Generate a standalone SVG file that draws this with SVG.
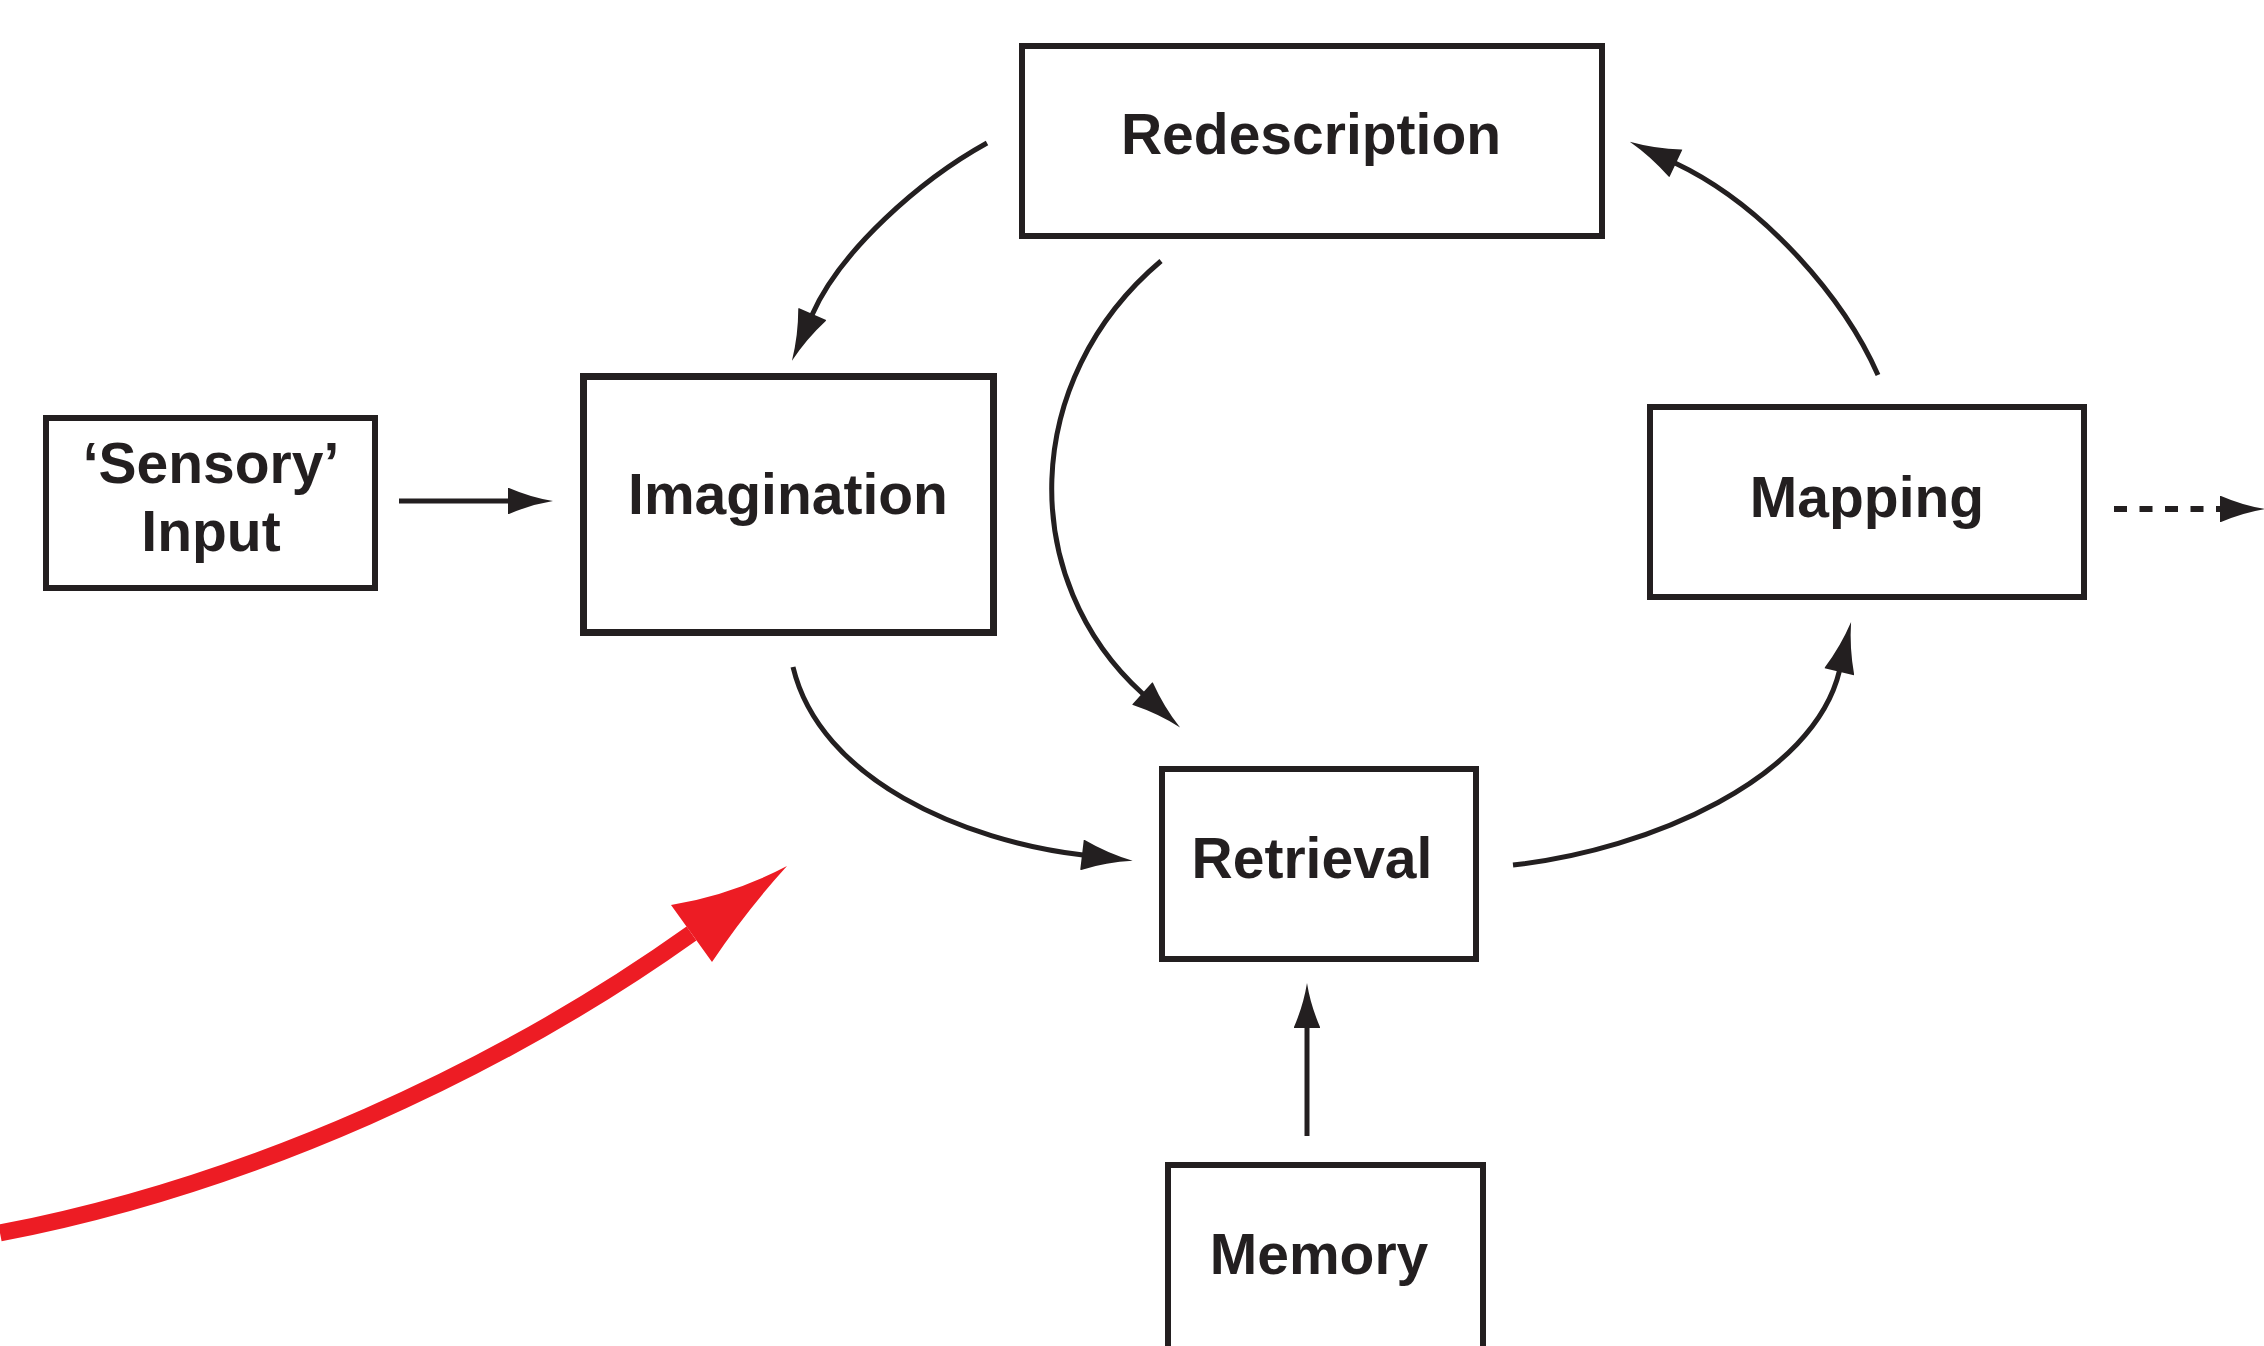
<svg xmlns="http://www.w3.org/2000/svg" width="2264" height="1346" viewBox="0 0 2264 1346">
  <style>
    .box { fill: #ffffff; stroke: #231f20; stroke-width: 6; }
    .thick { stroke-width: 7; }
    .lbl { font-family: "Liberation Sans", Arial, Helvetica, sans-serif; font-weight: bold; font-size: 57px; fill: #231f20; text-anchor: middle; }
    .conn { fill: none; stroke: #231f20; stroke-width: 5; }
    .dash { stroke-width: 6; stroke-dasharray: 13 12.5; }
    .red { fill: none; stroke: #ed1c24; stroke-width: 17; }
  </style>
  <defs>
    <marker id="ahc" markerUnits="userSpaceOnUse" markerWidth="54" markerHeight="32" refX="0" refY="0" orient="auto" overflow="visible">
      <path d="M-1,-15 L0,-15 Q24,-4.5 50,0 Q24,4.5 0,15 L-1,15 Z" fill="#231f20"/>
    </marker>
    <marker id="ahs" markerUnits="userSpaceOnUse" markerWidth="48" markerHeight="28" refX="0" refY="0" orient="auto" overflow="visible">
      <path d="M-1,-13 L0,-13 Q22,-3.5 44,0 Q22,3.5 0,13 L-1,13 Z" fill="#231f20"/>
    </marker>
  </defs>
  <rect width="2264" height="1346" fill="#ffffff"/>

  <g id="connectors">
    <path id="c-sensory-imagination" class="conn" d="M399,501 L509,501" marker-end="url(#ahs)"/>
    <path id="c-redescription-imagination" class="conn" d="M987,143 C920,180 840,251 812,315" marker-end="url(#ahc)"/>
    <path id="c-redescription-retrieval" class="conn" d="M1161,261 C1020,380 1017,580 1143,694" marker-end="url(#ahc)"/>
    <path id="c-mapping-redescription" class="conn" d="M1878,375 C1845,300 1766,206 1675,163" marker-end="url(#ahc)"/>
    <path id="c-retrieval-mapping" class="conn" d="M1513,865 C1650,850 1814,778 1839.5,670.7" marker-end="url(#ahc)"/>
    <path id="c-imagination-retrieval" class="conn" d="M793,667 C820,780 964,841 1083,855" marker-end="url(#ahc)"/>
    <path id="c-memory-retrieval" class="conn" d="M1307,1136 L1307,1027" marker-end="url(#ahs)"/>
    <path id="c-mapping-out" class="conn dash" d="M2114,509 L2221,509" marker-end="url(#ahs)"/>
    <g id="red-arrow">
      <path class="red" d="M0,1233 C250,1185 500,1070 691.5,933.5"/>
      <path d="M671,905 Q732,895 787,866 Q746,911 712,962 Z" fill="#ed1c24"/>
    </g>
  </g>

  <g id="node-redescription">
    <rect class="box" x="1022" y="46" width="580" height="190"/>
    <text class="lbl" x="1311" y="154">Redescription</text>
  </g>
  <g id="node-sensory">
    <rect class="box" x="46" y="418" width="329" height="170"/>
    <text class="lbl"><tspan x="211" y="483">‘Sensory’</tspan><tspan x="211" y="551">Input</tspan></text>
  </g>
  <g id="node-imagination">
    <rect class="box thick" x="583.5" y="376.5" width="410" height="256"/>
    <text class="lbl" x="788" y="514">Imagination</text>
  </g>
  <g id="node-mapping">
    <rect class="box" x="1650" y="407" width="434" height="190"/>
    <text class="lbl" x="1867" y="517">Mapping</text>
  </g>
  <g id="node-retrieval">
    <rect class="box" x="1162" y="769" width="314" height="190"/>
    <text class="lbl" x="1312" y="878">Retrieval</text>
  </g>
  <g id="node-memory">
    <rect class="box" x="1168" y="1165" width="315" height="250"/>
    <text class="lbl" x="1319" y="1274">Memory</text>
  </g>
</svg>
